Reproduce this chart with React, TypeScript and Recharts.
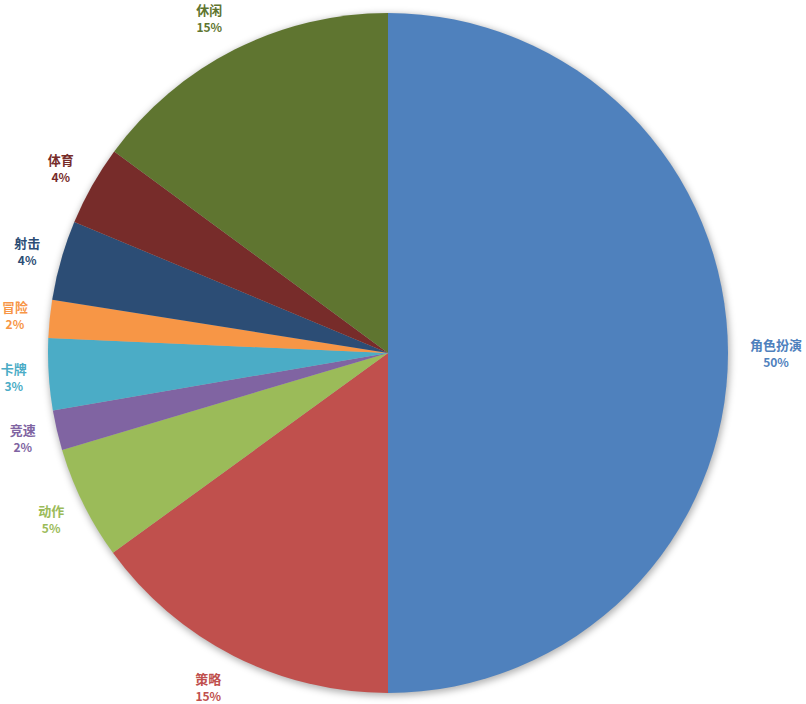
import React from 'react';
import { PieChart, Pie, Cell } from 'recharts';

const categories = ['角色扮演', '策略', '动作', '竞速', '卡牌', '冒险', '射击', '体育', '休闲'];
const shares = [50, 15, 5.4, 1.9, 3.4, 1.8, 3.8, 3.8, 14.9];
const colors = ['#4F81BD', '#C0504D', '#9BBB59', '#8064A2', '#4BACC6', '#F79646', '#2C4D75', '#772C2A', '#5F7530'];

const data = categories.map((name, i) => ({ name, value: shares[i] }));
const total = shares.reduce((a, b) => a + b, 0);
const shadowData = [{ name: 'shadow', value: 1 }];

const FONT = '"Noto Sans CJK SC", "Noto Sans", sans-serif';

const renderLabel = (p: any) => {
  const RAD = Math.PI / 180;
  const dx = Math.cos(-p.midAngle * RAD);
  const dy = Math.sin(-p.midAngle * RAD);
  const name = categories[p.index];
  const w = name.length * 13;
  const r = p.outerRadius + 35;
  const sx = Math.sign(dx);
  const extraX = sx * (Math.abs(dx) * (w / 2 - 13) + Math.pow(Math.abs(dy), 4) * 15);
  const x = p.cx + r * dx + extraX;
  const y = p.cy + r * dy;
  const pct = Math.round((shares[p.index] / total) * 100) + '%';
  const color = colors[p.index];
  return (
    <g key={'lbl' + p.index}>
      <text x={x} y={y - 3} textAnchor="middle" fill={color} fontSize={13} fontWeight="bold" fontFamily={FONT}>
        {name}
      </text>
      <text x={x} y={y + 14} textAnchor="middle" fill={color} fontSize={12} fontWeight="bold" fontFamily={FONT}>
        {pct}
      </text>
    </g>
  );
};

export default function App() {
  return (
    <div style={{ position: 'absolute', left: 0, top: 0, width: 806, height: 704, background: '#fff' }}>
      <PieChart width={806} height={704} margin={{ top: 0, right: 0, bottom: 0, left: 0 }}>
        <defs>
          <filter id="pieShadow" x="-10%" y="-10%" width="120%" height="120%">
            <feGaussianBlur stdDeviation="3.5" />
          </filter>
        </defs>
        <Pie
          data={shadowData}
          dataKey="value"
          cx={389}
          cy={355}
          outerRadius={341}
          startAngle={90}
          endAngle={-270}
          isAnimationActive={false}
          stroke="none"
          label={false}
          labelLine={false}
        >
          <Cell fill="#000" fillOpacity={0.3} filter="url(#pieShadow)" />
        </Pie>
        <Pie
          data={data}
          dataKey="value"
          cx={388}
          cy={353}
          outerRadius={340}
          startAngle={90}
          endAngle={-270}
          isAnimationActive={false}
          stroke="none"
          label={renderLabel}
          labelLine={false}
        >
          {data.map((d, i) => (
            <Cell key={d.name} fill={colors[i]} />
          ))}
        </Pie>
      </PieChart>
    </div>
  );
}
